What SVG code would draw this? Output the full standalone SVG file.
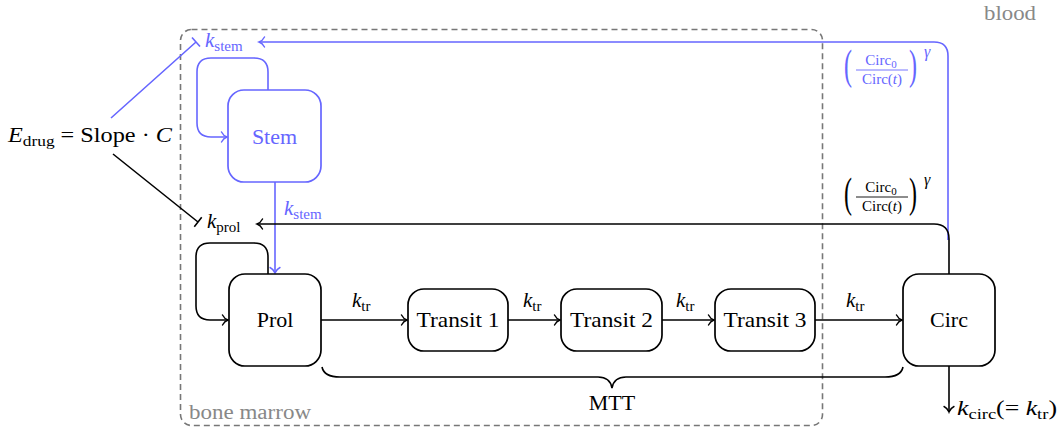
<svg xmlns="http://www.w3.org/2000/svg" width="1062" height="431" viewBox="0 0 1062 431" font-family="'Liberation Serif', 'DejaVu Serif', 'Times New Roman', serif">
  <style>
    text { font-family: "Liberation Serif", "DejaVu Serif", "Times New Roman", serif; fill: #000; }
    .lbl { font-size: 22px; text-anchor: middle; }
    .m { font-size: 21px; }
    .it { font-style: italic; }
    .sub { font-size: 15px; }
    .blue { fill: #6666ff; }
    .gray { fill: #888888; }
    .node { fill: #fff; stroke: #000; stroke-width: 1.7; }
    .node.b { stroke: #6666ff; }
    .edge { fill: none; stroke: #000; stroke-width: 1.6; }
    .edge.b { stroke: #6666ff; }
    .frac { font-size: 15px; text-anchor: middle; }
    .paren { font-size: 24px; text-anchor: middle; }
  </style>
  <defs>
    <marker id="to" viewBox="-8 -7 10 14" markerWidth="10" markerHeight="14" refX="0" refY="0" orient="auto" markerUnits="userSpaceOnUse">
      <path d="M-5.5,-5 C-4,-2 -1.5,-0.5 0,0 C-1.5,0.5 -4,2 -5.5,5" fill="none" stroke="#000" stroke-width="1.4" stroke-linecap="round"/>
    </marker>
    <marker id="toB" viewBox="-8 -7 10 14" markerWidth="10" markerHeight="14" refX="0" refY="0" orient="auto" markerUnits="userSpaceOnUse">
      <path d="M-5.5,-5 C-4,-2 -1.5,-0.5 0,0 C-1.5,0.5 -4,2 -5.5,5" fill="none" stroke="#6666ff" stroke-width="1.4" stroke-linecap="round"/>
    </marker>
  </defs>

  <!-- compartments -->
  <g id="bone-marrow">
    <rect x="180.5" y="29.5" width="642" height="396" rx="11" fill="none" stroke="#777" stroke-width="1.6" stroke-dasharray="6 4"/>
    <text x="189" y="419" class="gray" font-size="20" textLength="122" lengthAdjust="spacingAndGlyphs">bone marrow</text>
  </g>
  <g id="blood">
    <text x="984" y="20" class="gray" font-size="20" textLength="52" lengthAdjust="spacingAndGlyphs">blood</text>
  </g>

  <!-- connectors -->
  <g id="connectors">
    <!-- self-renewal loops -->
    <path class="edge b" d="M268,90 V72 Q268,58 254,58 H211 Q197,58 197,72 V123 Q197,137 211,137 H227" marker-end="url(#toB)"/>
    <path class="edge" d="M268,274 V257 Q268,243 254,243 H210 Q196,243 196,257 V306 Q196,320 210,320 H228" marker-end="url(#to)"/>
    <!-- stem to prol -->
    <path class="edge b" d="M275,182 V273" marker-end="url(#toB)"/>
    <!-- maturation chain -->
    <path class="edge" d="M321,320 H407" marker-end="url(#to)"/>
    <path class="edge" d="M508,320 H560" marker-end="url(#to)"/>
    <path class="edge" d="M662,320 H714" marker-end="url(#to)"/>
    <path class="edge" d="M815,320 H902" marker-end="url(#to)"/>
    <!-- elimination -->
    <path class="edge" d="M949,366 V412" marker-end="url(#to)"/>
    <!-- feedback loops -->
    <path class="edge b" d="M948,240 V56 Q948,42 934,42 H259" marker-end="url(#toB)"/>
    <path class="edge" d="M949,274 V239 Q949,224 934,224 H257" marker-end="url(#to)"/>
    <!-- drug effect (inhibition) -->
    <path class="edge b" d="M111,118 L196,42 M192,37.5 L200,46.5"/>
    <path class="edge" d="M113,154 L198,222 M201.7,217.3 L194.3,226.7"/>
    <!-- mean transit time brace -->
    <path class="edge" stroke-width="1.3" d="M322,367 Q324,377 340,377 H598 Q610,377 612,388 Q614,377 626,377 H885 Q901,377 903,367"/>
  </g>

  <!-- nodes -->
  <g id="stem">
    <rect class="node b" x="228" y="90" width="93" height="92" rx="16"/>
    <text x="274.5" y="144" class="lbl blue">Stem</text>
  </g>
  <g id="prol">
    <rect class="node" x="229" y="274" width="92" height="92" rx="16"/>
    <text x="275" y="327" class="lbl">Prol</text>
  </g>
  <g id="transit1">
    <rect class="node" x="408" y="289" width="100" height="62" rx="16"/>
    <text x="458" y="327" class="lbl" textLength="83" lengthAdjust="spacingAndGlyphs">Transit 1</text>
  </g>
  <g id="transit2">
    <rect class="node" x="561" y="289" width="101" height="62" rx="16"/>
    <text x="611.5" y="327" class="lbl" textLength="83" lengthAdjust="spacingAndGlyphs">Transit 2</text>
  </g>
  <g id="transit3">
    <rect class="node" x="715" y="289" width="100" height="62" rx="16"/>
    <text x="765" y="327" class="lbl" textLength="83" lengthAdjust="spacingAndGlyphs">Transit 3</text>
  </g>
  <g id="circ">
    <rect class="node" x="903" y="274" width="92" height="92" rx="16"/>
    <text x="949" y="327" class="lbl">Circ</text>
  </g>

  <!-- rate and effect labels -->
  <g id="labels">
    <text x="8" y="142" class="m" textLength="164" lengthAdjust="spacingAndGlyphs"><tspan class="it">E</tspan><tspan class="sub" dy="4">drug</tspan><tspan dy="-4"> = Slope · </tspan><tspan class="it">C</tspan></text>
    <text x="205" y="47" class="m blue"><tspan class="it">k</tspan><tspan class="sub" dy="4">stem</tspan></text>
    <text x="207" y="228" class="m"><tspan class="it">k</tspan><tspan class="sub" dy="4">prol</tspan></text>
    <text x="284" y="215" class="m blue"><tspan class="it">k</tspan><tspan class="sub" dy="4">stem</tspan></text>
    <text x="352" y="307" class="m"><tspan class="it">k</tspan><tspan class="sub" dy="4">tr</tspan></text>
    <text x="523" y="307" class="m"><tspan class="it">k</tspan><tspan class="sub" dy="4">tr</tspan></text>
    <text x="676" y="307" class="m"><tspan class="it">k</tspan><tspan class="sub" dy="4">tr</tspan></text>
    <text x="846" y="307" class="m"><tspan class="it">k</tspan><tspan class="sub" dy="4">tr</tspan></text>
    <text x="612" y="410" class="lbl">MTT</text>
    <text x="957" y="415" class="m" textLength="100" lengthAdjust="spacingAndGlyphs"><tspan class="it">k</tspan><tspan class="sub" dy="4">circ</tspan><tspan dy="-4">(= </tspan><tspan class="it">k</tspan><tspan class="sub" dy="4">tr</tspan><tspan dy="-4">)</tspan></text>

    <!-- feedback factor on stem cells -->
    <g class="blue">
      <text class="paren blue" transform="translate(848,79) scale(1,1.8)">(</text>
      <text class="paren blue" transform="translate(913,79) scale(1,1.8)">)</text>
      <text x="881" y="65" class="frac blue">Circ<tspan font-size="11" dy="3">0</tspan></text>
      <line x1="856" y1="70" x2="908" y2="70" stroke="#6666ff" stroke-width="0.9"/>
      <text x="882" y="84" class="frac blue">Circ(<tspan class="it">t</tspan>)</text>
      <text x="924" y="57" class="it blue" font-size="16">γ</text>
    </g>
    <!-- feedback factor on proliferation -->
    <g>
      <text class="paren" transform="translate(848,207) scale(1,1.8)">(</text>
      <text class="paren" transform="translate(913,207) scale(1,1.8)">)</text>
      <text x="881" y="192" class="frac">Circ<tspan font-size="11" dy="3">0</tspan></text>
      <line x1="856" y1="197" x2="908" y2="197" stroke="#000" stroke-width="0.9"/>
      <text x="882" y="211" class="frac">Circ(<tspan class="it">t</tspan>)</text>
      <text x="924" y="185" class="it" font-size="16">γ</text>
    </g>
  </g>
</svg>
